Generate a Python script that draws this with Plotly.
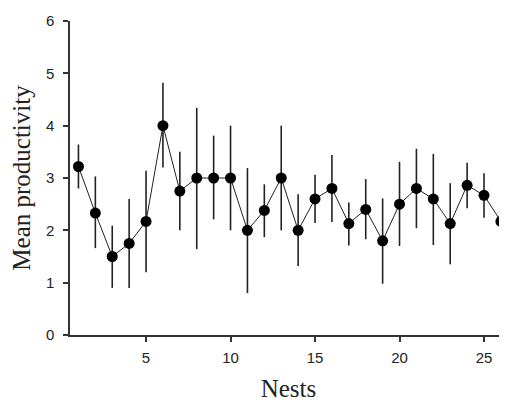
import plotly.graph_objects as go

nests = list(range(1, 27))
mean_productivity = [3.22, 2.33, 1.50, 1.75, 2.17, 4.00, 2.75, 3.00, 3.00, 3.00,
                     2.00, 2.38, 3.00, 2.00, 2.60, 2.80, 2.13, 2.40, 1.80, 2.50,
                     2.80, 2.60, 2.13, 2.86, 2.67, 2.17]
err_upper = [3.64, 3.03, 2.09, 2.60, 3.14, 4.82, 3.50, 4.34, 3.81, 4.00,
             3.19, 2.88, 4.00, 2.69, 3.06, 3.44, 2.53, 2.98, 2.61, 3.31,
             3.56, 3.46, 2.90, 3.29, 3.09, 2.49]
err_lower = [2.80, 1.66, 0.90, 0.90, 1.20, 3.20, 2.00, 1.64, 2.21, 2.00,
             0.80, 1.87, 2.00, 1.32, 2.14, 2.16, 1.71, 1.83, 0.98, 1.70,
             2.04, 1.72, 1.35, 2.42, 2.24, 1.85]

plus = [u - m for u, m in zip(err_upper, mean_productivity)]
minus = [m - l for m, l in zip(mean_productivity, err_lower)]

fig = go.Figure()
fig.add_trace(go.Scatter(
    x=nests, y=mean_productivity, mode="lines+markers",
    line=dict(color="#222222", width=1),
    marker=dict(color="black", size=11),
    error_y=dict(type="data", symmetric=False, array=plus, arrayminus=minus,
                 color="#222222", thickness=1.6, width=0),
    showlegend=False,
    cliponaxis=False,
))

# page body has an 8px default margin, so the figure is sized and offset to suit
fig.update_layout(
    width=499, height=394,
    margin=dict(l=62, r=0, t=13, b=67, autoexpand=False),
    paper_bgcolor="white", plot_bgcolor="white",
    xaxis=dict(
        range=[0.5, 26.36], tickvals=[5, 10, 15, 20, 25],
        showline=True, linecolor="#333333", linewidth=1.5,
        ticks="outside", ticklen=5, tickcolor="#333333", tickwidth=1.5,
        ticklabelstandoff=3,
        showgrid=False, zeroline=False,
        tickfont=dict(family="Liberation Sans, Arial, sans-serif", size=15, color="#222222"),
        title=dict(text="Nests", standoff=21,
                   font=dict(family="Liberation Serif, Times New Roman, serif", size=25, color="#222222")),
    ),
    yaxis=dict(
        range=[0, 6], tickvals=[0, 1, 2, 3, 4, 5, 6],
        showline=True, linecolor="#333333", linewidth=1.5,
        ticks="outside", ticklen=5, tickcolor="#333333", tickwidth=1.5,
        ticklabelstandoff=6,
        showgrid=False, zeroline=False,
        tickfont=dict(family="Liberation Sans, Arial, sans-serif", size=15, color="#222222"),
        title=dict(text="Mean productivity", standoff=8,
                   font=dict(family="Liberation Serif, Times New Roman, serif", size=25, color="#222222")),
    ),
)

fig.write_html("out.html")
